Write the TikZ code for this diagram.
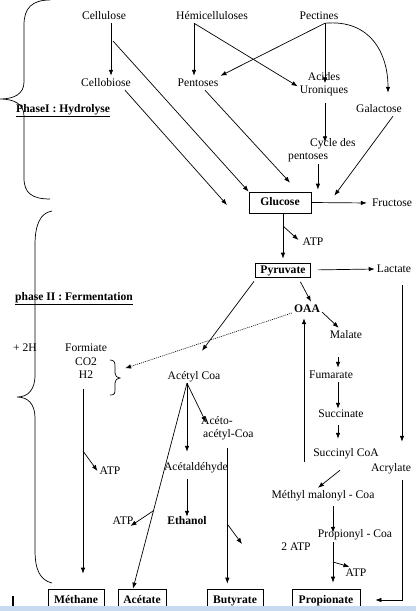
\documentclass[tikz,border=0pt]{standalone}
\usepackage{fontspec}
\setmainfont{Liberation Serif}
\usetikzlibrary{arrows.meta}
\definecolor{bandeau}{RGB}{200,218,240}
\tikzset{
	txt/.style={inner sep=2pt, text height=8pt, text depth=2pt},
	boite/.style={draw, line width=0.7pt, inner sep=0pt, font=\bfseries},
	fl/.style={line width=0.7pt, -{Latex[length=6pt,width=4.5pt]}},
	accolade/.style={line width=0.7pt},
}

\begin{document}
\fontsize{11.6}{13.5}\selectfont
\begin{tikzpicture}[x=1pt, y=-1pt, every node/.style={txt}]
		\useasboundingbox (0,0) rectangle (416,611);
		%%%%% PHASE I %%%%%
		
		\node (cellu) at (104,16) {Cellulose};
		\node (hemi) at (212,16) {Hémicelluloses};
		\node (pect) at (319,16) {Pectines};
		\node (cello) at (106,83) {Cellobiose};
		\node (pent) at (198,83) {Pentoses};
		\node[align=center] (acid) at (324,90.5) {Acides\\Uroniques};
		\node (galac) at (379,109) {Galactose};
		\node[align=left, anchor=west] (cycle) at (286,156.5) {\hspace*{22pt}Cycle des\\pentoses};
		\node[boite, minimum width=62pt, minimum height=21pt] (gluc) at (280,202.5) {Glucose};
		\node (fruc) at (392,203) {Fructose};
		
		\node[anchor=west, font=\bfseries] (ph1) at (14,109) {\underline{PhaseI : Hydrolyse}};
		
		\coordinate (cbr) at (113,41);
		\coordinate (gin) at (227,205);
		\draw[fl] ([xshift=7pt]cellu.south) -- ([xshift=5pt]cello.north);
		\draw[fl] (cbr) -- (gluc.north west);
		\draw[fl] ([xshift=-8pt]cello.south east) -- (gin);
		\draw[fl] ([xshift=-18pt]hemi.south) -- ([xshift=-4pt]pent.north);
		\draw[fl] ([xshift=-18pt]hemi.south) -- ([yshift=-3pt]acid.north west);
		\draw[fl] ([xshift=6pt]pect.south) -- (pent.north east);
		\draw[fl] ([xshift=6pt]pect.south) -- ([xshift=1pt]acid.north);
		\draw[fl] ([xshift=6pt]pect.south) .. controls +(45,-4) and +(0,-40) .. ([xshift=9pt,yshift=9pt]galac.north);
		\draw[fl, shorten <=5pt, shorten >=7pt] ([xshift=1pt]acid.south) -- ([xshift=1pt]acid.south |- cycle.north);
		\draw[fl, shorten >=2pt] ([xshift=-4pt]cycle.south) -- ([xshift=-4pt]cycle.south |- gluc.north);
		\draw[fl] ([xshift=7pt]pent.south) -- ([xshift=10pt,yshift=9pt]gluc.north);
		\draw[fl] ([xshift=14pt]galac.south) -- ([xshift=23pt,yshift=-4pt]gluc.north east);
		
		\draw[accolade] (50,0) .. controls (32,0) and (24,8) .. (24,25) -- (24,82) .. controls (24,94) and (14,99) .. (0,99) .. controls (14,99) and (24,104) .. (24,116) -- (24,178) .. controls (24,193) and (32,199) .. (50,199);
		
		%%%%% PHASE II %%%%%
		
		\node (atpA) at (313,242) {ATP};
		\node[boite, minimum width=55pt, minimum height=14pt] (pyr) at (283,270) {Pyruvate};
		\node (lact) at (394,269) {Lactate};
		\node[font=\bfseries] (oaa) at (307,309) {OAA};
		\node (mal) at (346,335) {Malate};
		\node (fum) at (331,375) {Fumarate};
		\node (succ) at (341,414) {Succinate};
		\node (scoa) at (346,453) {Succinyl CoA};
		\node (acry) at (391,468) {Acrylate};
		\node (mmal) at (323,495) {Méthyl malonyl - Coa};
		\node (prop) at (355,534) {Propionyl - Coa};
		\node (atpD) at (296,547) {2 ATP};
		\node (atpE) at (356,573) {ATP};
		
		\node[align=center] (formi) at (86,375.5) {Formiate\\CO2\\H2};
		\node (acoa) at (194,376) {Acétyl Coa};
		\node[align=left, anchor=west] (aceto) at (199,434.5) {Acéto-\\\hspace*{2pt}acétyl-Coa};
		\node (aldh) at (196,467) {Acétaldéhyde};
		\node[font=\bfseries] (etoh) at (187,521) {Ethanol};
		\node (atpC) at (123,521) {ATP};
		\node (atpB) at (110,471) {ATP};
		
		\node[boite, minimum width=56pt, minimum height=22pt] (meth) at (76,600) {Méthane};
		\node[boite, minimum width=48pt, minimum height=22pt] (acet) at (142,600) {Acétate};
		\node[boite, minimum width=56pt, minimum height=22pt] (buty) at (235,600) {Butyrate};
		\node[boite, minimum width=68pt, minimum height=22pt] (propi) at (326,600) {Propionate};
		
		\node[anchor=west, font=\bfseries] (ph2) at (13,297) {\underline{phase II : Fermentation}};
		\node[anchor=west] (plus) at (11,348) {+ 2H};
		
		\draw[fl, shorten >=3pt] (gluc.east) -- (fruc.west);
		\coordinate (b1) at (283,226);
		\draw[fl, shorten >=4pt] ([xshift=3pt]gluc.south) -- ([xshift=3pt]gluc.south |- pyr.north);
		\draw[fl] (b1) -- ([xshift=-2pt,yshift=2pt]atpA.west);
		\draw[fl, shorten <=7pt] (pyr.east) -- (lact.west);
		\draw[fl, shorten <=5pt] ([xshift=15pt]pyr.south) -- ([xshift=4pt]oaa.north);
		\draw[fl, shorten <=5pt] ([xshift=-26pt]pyr.south) -- ([xshift=8pt,yshift=18pt]acoa.north);
		\draw[fl, dash pattern=on 1pt off 1pt, line width=0.6pt] ([yshift=-4pt]oaa.west) -- ([xshift=16pt]formi.north east);
		\draw[fl] ([yshift=-3pt]oaa.east) -- ([xshift=11pt]mal.north west);
		\draw[fl, shorten <=15pt] ([xshift=-8pt]mal.south) -- ([xshift=7pt]fum.north);
		\draw[fl] ([xshift=7pt]fum.south) -- ([xshift=-3pt,yshift=-2pt]succ.north);
		\draw[fl, shorten <=4pt, shorten >=7pt] ([xshift=-3pt]succ.south) -- ([xshift=-8pt]scoa.north);
		\draw[fl] ([xshift=-6pt,yshift=-10pt]scoa.south) -- ([xshift=-5pt]mmal.north);
		\draw[fl, shorten <=4pt] ([xshift=10pt]mmal.south) -- ([xshift=-22pt,yshift=-6pt]prop.north);
		\draw[fl, shorten <=1pt, shorten >=6pt] ([xshift=-22pt]prop.south) -- ([xshift=7pt]propi.north);
		\coordinate (b4) at (333,562);
		\draw[fl] (b4) -- ([xshift=6pt,yshift=-1pt]atpE.north west);
		\draw[fl, shorten <=9pt, shorten >=19pt] ([xshift=8pt]lact.south) -- ([xshift=11pt]acry.north);
		\draw[fl, shorten <=5pt, shorten >=15pt] ([xshift=11pt]acry.south) |- (propi.east);
		\coordinate (ret) at (304,462);
		\draw[fl] (ret) -- ([xshift=-3pt,yshift=-2pt]oaa.south);
		
		\draw[fl] ([xshift=-7pt]acoa.south) -- ([xshift=-9pt,yshift=8pt]aldh.north);
		\draw[fl] ([xshift=-7pt]acoa.south) -- ([xshift=7pt,yshift=5pt]aceto.north west);
		\draw[fl] ([xshift=-7pt]acoa.south) -- ([xshift=-9pt]acet.north);
		\coordinate (b3) at (153,511);
		\draw[fl] (b3) -- ([xshift=-5pt,yshift=-5pt]atpC.east);
		\draw[fl, shorten <=5pt] ([xshift=-9pt]aldh.south) -- ([yshift=-3pt]etoh.north);
		\draw[fl, shorten <=6pt, shorten >=5pt] (aceto.south) -- (aceto.south |- buty.north);
		\coordinate (b5) at (228,525);
		\draw[fl] (b5) -- ++(14,19);
		\draw[fl, shorten <=6pt, shorten >=15pt] ([xshift=-3pt]formi.south) -- ([xshift=-3pt]formi.south |- meth.north);
		\coordinate (b2) at (83,451);
		\draw[fl] (b2) -- (atpB.west);
		
		\draw[accolade] (52,211) .. controls (40,213) and (35,225) .. (35,245) -- (35,375) .. controls (35,390) and (28,397) .. (17,397) .. controls (28,397) and (35,404) .. (35,418) -- (35,550) .. controls (35,570) and (40,580) .. (52,583);
		\draw[accolade] (110,360) .. controls (114,360) and (115,362) .. (115,366) -- (115,373) .. controls (115,376) and (117,378) .. (120,378) .. controls (117,378) and (115,380) .. (115,383) -- (115,390) .. controls (115,394) and (114,395) .. (110,395);
		
		\draw[line width=1.2pt] (13,596) -- (13,606);
		\fill[bandeau] (0,606) rectangle (416,611);
		
		%%%%% END %%%%%
\end{tikzpicture}
\end{document}
